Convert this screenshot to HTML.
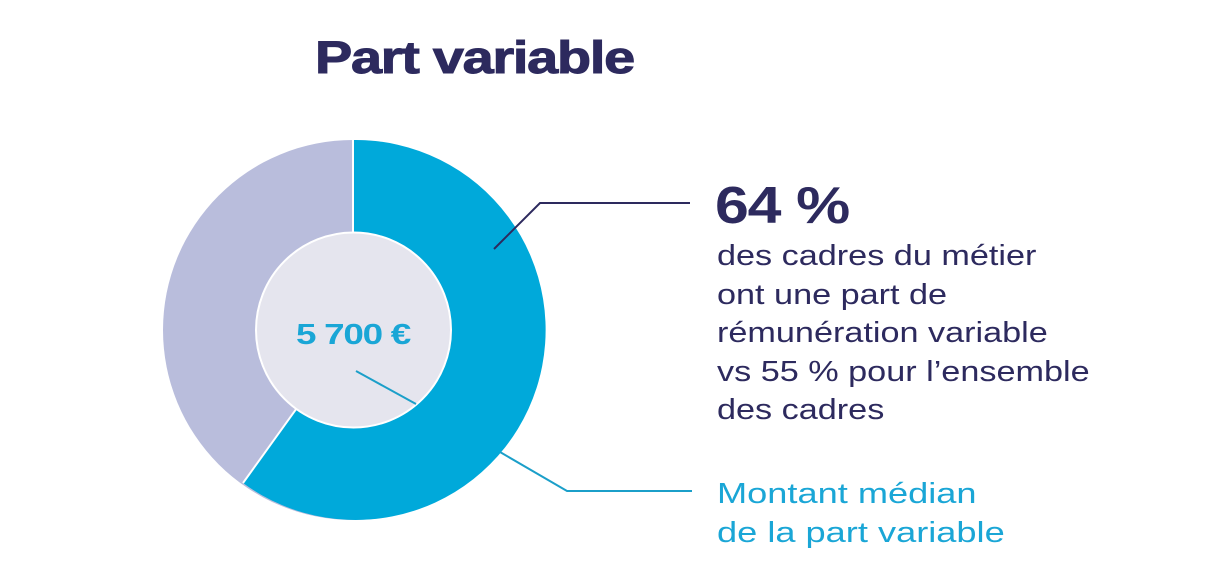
<!DOCTYPE html>
<html><head><meta charset="utf-8"><style>
body{margin:0;width:1224px;height:582px;background:#fff;overflow:hidden;position:relative;font-family:"Liberation Sans",sans-serif}
.t{position:absolute;white-space:nowrap;transform-origin:0 0}
</style></head><body>
<svg width="1224" height="582" style="position:absolute;left:0;top:0">
<circle cx="353" cy="330" r="190" fill="#b9bddc"/>
<path d="M353,330 L353,140 A190,190 0 1,1 243,483 Z" fill="#00a9da"/>
<line x1="353" y1="140" x2="353" y2="330" stroke="#fff" stroke-width="2"/>
<line x1="353" y1="330" x2="243" y2="483" stroke="#fff" stroke-width="2"/>
<circle cx="353.5" cy="330" r="97.5" fill="#e5e5ee" stroke="#fff" stroke-width="2"/>
<polyline points="494,249 540,203 690,203" fill="none" stroke="#2d2a5e" stroke-width="2"/>
<line x1="356" y1="371" x2="416" y2="404" stroke="#1b9fc9" stroke-width="2"/>
<polyline points="500,452 567,491 692,491" fill="none" stroke="#1b9fc9" stroke-width="2"/>
<text x="353" y="344" text-anchor="middle" font-family="Liberation Sans" font-weight="bold" font-size="29" fill="#1aa6d6" letter-spacing="-1" transform="translate(353,0) scale(1.27,1) translate(-353,0)">5 700 €</text>
</svg>
<div class="t" style="left:315px;top:32px;font-size:45px;font-weight:bold;color:#2d2a5e;letter-spacing:-1px;transform:scaleX(1.24);-webkit-text-stroke:1px #2d2a5e">Part variable</div>
<div class="t" style="left:715px;top:176px;font-size:52px;font-weight:bold;color:#2d2a5e;letter-spacing:-1px;transform:scaleX(1.17)">64 %</div>
<div class="t" style="left:717px;top:237px;font-size:28.5px;line-height:38.5px;color:#2d2a5e;transform:scaleX(1.2)">des cadres du métier<br>ont une part de<br>rémunération variable<br>vs 55 % pour l’ensemble<br>des cadres</div>
<div class="t" style="left:717px;top:475px;font-size:28.5px;line-height:38.5px;color:#1aa6d6;transform:scaleX(1.27)">Montant médian<br>de la part variable</div>
</body></html>
